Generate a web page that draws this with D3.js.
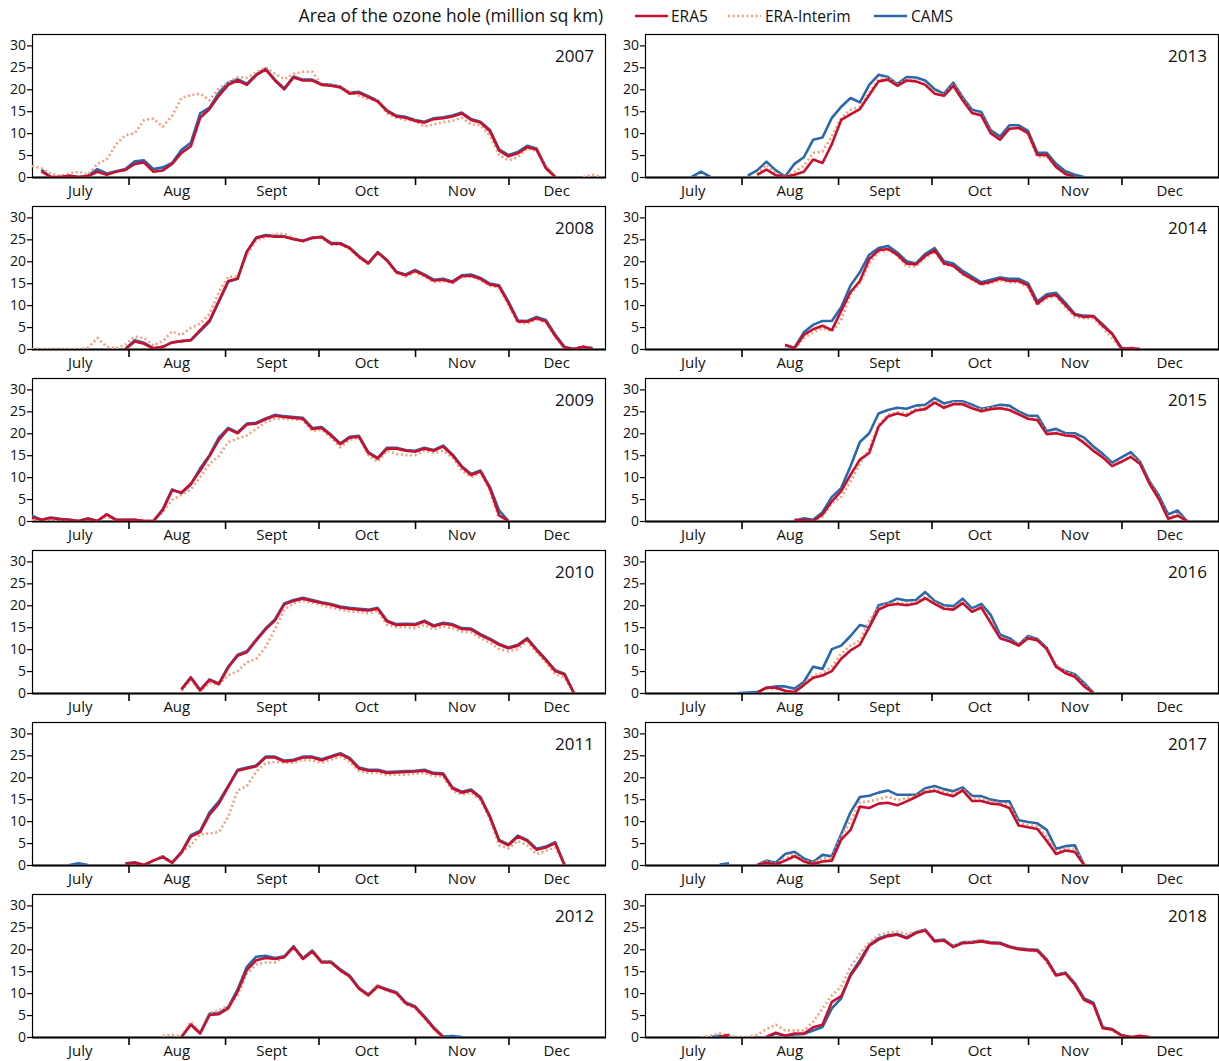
<!DOCTYPE html>
<html><head><meta charset="utf-8">
<script src="https://cdn.jsdelivr.net/npm/d3@7"></script>
<style>
html,body{margin:0;padding:0;background:#fff;}
svg{display:block;font-family:"Open Sans",sans-serif;}
</style></head><body>
<svg id="chart" width="1219" height="1061"></svg>
<script>
const _ = null;
// values sampled every 3 days starting 1 July (index i -> day 3*i); missing = null
const sampleStepDays = 3;
const years = [2007, 2008, 2009, 2010, 2011, 2012, 2013, 2014, 2015, 2016, 2017, 2018];
const monthLabels = ["July", "Aug", "Sept", "Oct", "Nov", "Dec"];
const yTicks = [0, 5, 10, 15, 20, 25, 30];
const titleText = "Area of the ozone hole (million sq km)";
const seriesNames = ["ERA5", "ERA-Interim", "CAMS"];

const era5_2007 = [_,1.3,0,0,0.3,0,0.2,1.2,0.5,1.2, 1.6,3.0,3.3,1.2,1.5,3.0,5.5,7,13.5,15.5, 18.5,21,22,21,23.2,24.5,22,20,22.7,22, 22,21,20.8,20.4,19,19.2,18.2,17.2,15,13.8, 13.5,12.8,12.4,13.2,13.4,13.8,14.5,13,12.4,10.5, 6,4.7,5.4,6.8,6.3,2,0];
const erai_2007 = [2.5,2,0.8,0.3,0.8,1.2,0.6,3.0,4.0,7.5, 9.5,10,13,13.3,11.5,14,18,18.7,19,17.5, 20.2,21.5,22.8,22.6,23.8,25,23.5,22.3,23.5,24, 24,21,21,20.5,19.5,18.5,17.8,17.5,14.5,13.5, 13,12.8,11.5,12,12.5,12.8,13.5,12,11.8,9.5, 5,3.8,4.5,6.5,6,2.5,0,_,_,0, 0.5,0];
const cams_2007 = [_,1.7,0,0,0.3,0,0.3,1.8,0.8,1.3, 1.8,3.6,3.8,1.8,2.2,3.2,6.2,7.8,14.5,15.8, 19.2,21.5,22.3,21.3,23.4,24.7,22.2,20.2,22.9,22.2, 22.2,21.2,21,20.6,19.2,19.4,18.4,17.4,15.2,14, 13.7,13,12.6,13.4,13.6,14,14.7,13.2,12.6,10.8, 6.3,5,5.7,7.1,6.5,2.3,0];

const era5_2008 = [_,_,_,_,_,_,_,_,_,_, 0,1.7,1.2,0.1,0.5,1.5,1.8,2,4.3,6.5, 11,15.5,16,22.2,25.3,25.8,25.6,25.6,25,24.6, 25.3,25.5,24,24,23,21,19.5,22,20.2,17.5, 16.8,17.8,16.8,15.6,15.8,15.2,16.6,16.7,16,14.7, 14.3,10.5,6.3,6.2,7,6.3,3,0.3,0,0.5, 0];
const erai_2008 = [0,0,0,0,0,0,0.3,2.5,0.5,0.2, 1,2.8,2.5,0.8,1.8,4,3.2,4.8,5.8,8, 13,16.5,16.5,21.5,24.8,25.5,26.2,26.3,25.3,24.5, 25.3,25.4,23.8,23.8,22.8,20.8,19.3,22,20,17.3, 16.5,17.5,16.5,15.2,15.5,15,16.4,16.5,15.7,14.4, 14,10,6,5.8,6.7,6,2.8,0];
const cams_2008 = [_,_,_,_,_,_,_,_,_,_, 0,2,1.4,0.2,0.5,1.5,1.8,2,4.1,6.2, 10.7,15.3,16,22.2,25.4,26,25.8,25.7,25.1,24.7, 25.4,25.6,24.2,24.1,23.1,21.2,19.6,22.1,20.3,17.6, 17,18,17,15.8,16,15.4,16.8,17,16.2,14.9, 14.5,10.8,6.5,6.4,7.3,6.6,3.3,0.5,0,0.5, 0.2];

const era5_2009 = [0.8,0.3,0.7,0.4,0.3,0,0.5,0,1.5,0.2, 0.3,0.3,0,0,2.5,7,6.5,8.5,11.5,14.8, 18.5,21,20,22,22.2,23.2,24,23.7,23.5,23.3, 21,21.2,19.5,17.5,19,19.2,15.5,14.2,16.5,16.5, 16,15.8,16.5,16,17,15,12.3,10.5,11.3,7.5, 1.3,0];
const erai_2009 = [0.3,0,0.3,0.2,0.2,0,0.5,0,1,0.2, 0,0.2,0,0,2,4.8,6,7.2,10,13, 14.8,18,18.8,19.5,21,22.5,23.3,23.3,23.2,23, 20.5,20.8,19,16.8,18.5,19,15,13.5,16,15.3, 15,15,16,15.5,16,14.5,11.5,10,11,7, 0.5];
const cams_2009 = [1.2,0.3,0.8,0.5,0.3,0,0.6,0,1.5,0.3, 0.3,0.3,0,0,2.7,7.2,6.3,8.3,12,15, 19,21.2,20.2,22.2,22.4,23.4,24.2,23.9,23.7,23.5, 21.2,21.4,19.7,17.7,19.2,19.4,15.7,14.4,16.7,16.7, 16.2,16,16.7,16.2,17.2,15.2,12.5,10.7,11.5,7.8, 2.4,0];

const era5_2010 = [_,_,_,_,_,_,_,_,_,_, _,_,_,_,_,_,0.8,3.5,0.6,3, 2,5.8,8.5,9.3,12,14.5,16.5,20.2,21,21.5, 21,20.5,20.1,19.5,19.2,19,18.8,19.2,16.3,15.5, 15.6,15.5,16.3,15.2,15.8,15.5,14.6,14.5,13.2,12.2, 11,10.2,10.8,12.3,9.8,7.5,5,4.2,0];
const erai_2010 = [_,_,_,_,_,_,_,_,_,_, _,_,_,_,_,_,0.5,3,0.4,2.3, 2,4,5,7,7.8,10.5,14.5,19,20.4,21, 20.6,20,19.5,19,18.6,18.5,18.2,18.7,15.5,15, 15,14.8,15.5,14.5,15.2,14.8,14,13.8,12.5,11.5, 10,9.5,10,11.8,9.3,7,4.3,3.5,0];
const cams_2010 = [_,_,_,_,_,_,_,_,_,_, _,_,_,_,_,_,0.9,3.6,0.7,3.1, 2.2,6,8.7,9.5,12.2,14.7,16.8,20.4,21.2,21.7, 21.2,20.7,20.3,19.7,19.4,19.2,19,19.4,16.5,15.7, 15.8,15.7,16.5,15.4,16,15.7,14.8,14.7,13.4,12.4, 11.2,10.4,11,12.5,10,7.7,5.2,4.4,0];

const era5_2011 = [_,_,_,_,_,_,_,_,_,_, 0.2,0.5,0,1,1.8,0.5,2.8,6.5,7.5,11.5, 14,17.8,21.5,22,22.5,24.5,24.5,23.6,23.8,24.5, 24.5,23.9,24.6,25.3,24.2,22,21.5,21.5,21,21.1, 21.2,21.3,21.5,20.8,20.7,17.5,16.5,17,15.3,11, 5.5,4.5,6.5,5.5,3.5,4,5,0];
const erai_2011 = [_,_,_,_,_,_,_,_,_,_, _,_,0,1.2,2,0.5,2.8,4.5,7,7.2, 7.5,11,17,18,21.3,23.2,23.5,23.3,23.3,24, 23.8,23.3,24,24.7,23.6,21.4,21,21,20.5,20.6, 20.6,20.8,21,20.3,20.2,17,16,16.5,14.8,10.5, 4.5,3.8,5.5,4.5,2.5,3.2,4,0];
const cams_2011 = [_,_,_,_,0,0.4,0,_,_,_, 0.4,0.6,0,1,2,0.6,3,6.8,7.8,12, 14.5,18,21.7,22.2,22.7,24.7,24.7,23.8,24,24.7, 24.7,24.1,24.8,25.5,24.4,22.2,21.7,21.7,21.2,21.3, 21.4,21.5,21.7,21,20.9,17.7,16.7,17.2,15.5,11.2, 5.7,4.7,6.7,5.7,3.7,4.2,5.2,0];

const era5_2012 = [_,_,_,_,_,_,_,_,_,_, _,_,_,_,_,_,0,2.8,0.8,5, 5.2,6.5,10.3,15.3,17.5,18,17.8,18.2,20.5,17.8, 19.5,17,17,15.2,13.8,11,9.5,11.5,10.7,10, 7.7,6.8,4.5,2,0];
const erai_2012 = [_,_,_,_,_,_,_,_,_,_, _,_,_,_,0.3,0.5,0.2,3.5,1,5.5, 6,7.2,9.5,14.5,16.5,17,17,18.2,20.5,17.8, 19.3,17.2,17.1,15,13.7,11,9.5,11.8,10.5,10, 7.4,6.6,4.2,1.8,0];
const cams_2012 = [_,_,_,_,_,_,_,_,_,_, _,_,_,_,_,_,0,2.9,0.9,5.3, 5.5,6.8,10.8,16,18.3,18.5,18,18.4,20.7,18, 19.7,17.2,17.2,15.4,14,11.2,9.7,11.7,10.9,10.2, 7.9,7,4.7,2.2,0.1,0.2,0];

const era5_2013 = [_,_,_,_,_,_,_,_,_,_, _,_,0.5,1.7,0.4,0,0.5,1.2,4,3.2, 7.5,13,14.3,15.5,18.7,21.8,22.2,20.8,22,21.8, 21,19,18.5,20.8,17.5,14.6,14,10,8.5,11, 11.2,10,5,5,2.3,0.7,0];
const erai_2013 = [_,_,_,_,_,_,_,_,_,_, _,_,0.7,2.8,0.8,0,1.2,2.5,5.5,5.8, 9.3,13.5,15.3,16,19.2,22.3,22.5,21,22.2,22, 21.2,19.2,18.7,21,17.8,14.8,14.2,10.2,8.5,11, 11.2,9.8,4.5,4.8,2.2,0.6,0];
const cams_2013 = [_,_,_,_,_,0,1.2,0,_,_, _,0.3,1.5,3.5,1.5,0.1,3,4.5,8.5,9, 13.5,16,18,17,21,23.3,22.8,21.2,22.8,22.7, 22,20,19,21.5,18.2,15.3,14.8,10.7,9.2,11.8, 11.8,10.5,5.5,5.5,3,1.3,0.5,0];

const era5_2014 = [_,_,_,_,_,_,_,_,_,_, _,_,_,_,_,1,0.2,3.2,4.5,5.3, 4.3,8.7,13,15.5,20.5,22.5,22.8,21.5,19.5,19.3, 21.2,22.5,19.5,19,17.2,16,14.8,15.3,16,15.5, 15.5,14.5,10.3,12,12.3,10,7.8,7.3,7.5,5.3, 3.5,0,0.2,0];
const erai_2014 = [_,_,_,_,_,_,_,_,_,_, _,_,_,_,_,_,0,2.5,3.8,4.7, 4,6.5,12.5,15,19.5,22,22.5,21.3,18.8,18.8, 20.8,22.2,19.3,18.8,17,15.8,14.6,15,15.7,15.2, 15.2,14,10,11.5,12,9.5,7.3,7,7,4.8, 2.5,0];
const cams_2014 = [_,_,_,_,_,_,_,_,_,_, _,_,_,_,_,0.8,0.3,3.8,5.5,6.4, 6.4,9.5,14.5,17.5,21.5,23,23.5,22,20,19.5, 21.7,23,20,19.5,17.8,16.5,15.2,15.8,16.3,16, 16,15,10.8,12.5,12.8,10.5,8,7.6,7.5,5.6, 3.5,0.3,0];

const era5_2015 = [_,_,_,_,_,_,_,_,_,_, _,_,_,_,_,_,0.3,0.2,0,1.5, 4.5,6.8,10.5,14,15.5,21.5,23.8,24.5,24,25.2, 25.5,27,25.8,26.6,26.6,25.7,25,25.5,25.7,25.3, 24.3,23.3,23,19.8,20,19.5,19.3,17.8,16,14.5, 12.5,13.5,14.6,13,8.5,5,0.5,1.2,0];
const erai_2015 = [_,_,_,_,_,_,_,_,_,_, _,_,_,_,_,_,_,_,0,1, 4,5.5,9,13,16.5,22,24.2,24.8,24.5,25.5, 26,27.3,26.2,27,26.9,26,25.3,25.8,26,25.5, 24.5,23.5,23.2,20,20.2,19.7,19.5,18,16.2,14.7, 12.7,13.7,14.9,13.2,8.7,5.2,0.8,1.5,0];
const cams_2015 = [_,_,_,_,_,_,_,_,_,_, _,_,_,_,_,_,0,0.6,0.3,2, 5.5,7.5,12.5,18,20,24.5,25.3,25.8,25.6,26.3, 26.5,28,26.8,27.3,27.3,26.5,25.6,26,26.5,26.3, 25,24,24,20.5,21,20,20,19,17,15.3, 13.3,14.5,15.7,13.5,9,5.8,1.5,2.4,0];

const era5_2016 = [_,_,_,_,_,_,_,_,_,_, _,_,0,1.2,1.2,0.5,0.2,1.8,3.5,4, 5,7.8,9.7,11,15,19,20,20.3,20,20.4, 21.6,20.3,19.2,19,20.5,18.5,19.5,16,12.5,11.8, 10.8,12.5,12,10,6,4.5,3.7,1.5,0];
const erai_2016 = [_,_,_,_,_,_,_,_,_,_, _,_,_,0.8,1,0.5,0.3,2,4,4.5, 6,9,10.8,12,16.5,19.5,20.3,20.6,20.4,20.6, 22,20.6,19.5,19.3,20.8,18.7,19.8,16.4,12.7,11.9, 10.9,12.7,12.1,10.2,6.5,4.8,4,1.8,0];
const cams_2016 = [_,_,_,_,_,_,_,_,_,_, 0,0.1,0.2,1.2,1.5,1.5,1,2.5,6,5.5, 10,10.8,13,15.5,15,20,20.5,21.5,21.1,21.2, 23,21,20,19.8,21.5,19.3,20.3,17.8,13.3,12.5, 11,13,12.3,10.3,6,5,4.3,2.3,0];

const era5_2017 = [_,_,_,_,_,_,_,_,_,_, _,_,0,0.5,0.1,1,2,0.8,0.2,0.8, 1,5.8,8,13.3,13,14,14.2,13.6,14.5,15.5, 16.6,16.9,16.2,15.7,17,14.6,14.6,14,13.8,13, 9,8.6,8.2,5.5,2.5,3.3,3,0];
const erai_2017 = [_,_,_,_,_,_,_,_,_,_, _,_,0,0.8,0.3,1.5,2.5,1,0.5,1.5, 1.5,6.5,10,14.3,14.5,15,15.6,14.8,15.2,15.8, 17,17.4,16.8,16.3,17.3,15.2,15.2,14.4,14.1,13.6, 9.6,9.1,8.8,6.5,3,3.8,3.7,0];
const cams_2017 = [_,_,_,_,_,_,_,_,0.1,0.4, _,_,0,1,0.5,2.5,3,1.5,0.7,2.3, 2,7,12,15.5,15.8,16.5,17,16,16,16, 17.5,18,17.3,16.8,17.7,15.8,15.7,14.9,14.5,14.5, 10.2,9.8,9.5,8,3.7,4.3,4.5,0];

const era5_2018 = [_,_,_,_,_,_,_,_,0,0.5, _,_,_,0,1,0.3,0.8,0.8,2.2,2.8, 8,9.3,14,17,20.8,22.2,23,23.3,22.5,23.7, 24.3,21.8,22,20.5,21.4,21.5,21.8,21.4,21.3,20.5, 20,19.8,19.7,17.5,14,14.5,12,8.5,7.5,2, 1.7,0.4,0,0.3,0];
const erai_2018 = [_,_,_,_,_,_,0,0.3,0.8,0.4, 0,0,0.5,1.8,2.8,1.5,1.5,1.5,3.5,6.5, 9.5,11.5,16,19,21.5,23.2,23.8,24,23.5,24, 24.5,21.8,22,20.8,21.5,21.7,22.1,21.4,21.3,20.5, 20,19.7,19.6,17,14,14.5,12,8.3,7.3,2, 1.5,0.3,0];
const cams_2018 = [_,_,_,_,_,_,_,0,0.3,0, _,_,_,0,0.8,0.3,0.6,0.7,1.5,2.3, 6.5,8.8,14.3,17.5,21,22.5,23.2,23.5,22.7,23.9, 24.5,22,22.2,20.7,21.6,21.7,22,21.6,21.5,20.7, 20.2,20,19.9,17.7,14.2,14.7,12.3,8.8,7.8,2.2, 1.8,0.4,0];

const era5ByYear = {2007:era5_2007,2008:era5_2008,2009:era5_2009,2010:era5_2010,2011:era5_2011,2012:era5_2012,2013:era5_2013,2014:era5_2014,2015:era5_2015,2016:era5_2016,2017:era5_2017,2018:era5_2018};
const eraiByYear = {2007:erai_2007,2008:erai_2008,2009:erai_2009,2010:erai_2010,2011:erai_2011,2012:erai_2012,2013:erai_2013,2014:erai_2014,2015:erai_2015,2016:erai_2016,2017:erai_2017,2018:erai_2018};
const camsByYear = {2007:cams_2007,2008:cams_2008,2009:cams_2009,2010:cams_2010,2011:cams_2011,2012:cams_2012,2013:cams_2013,2014:cams_2014,2015:cams_2015,2016:cams_2016,2017:cams_2017,2018:cams_2018};

// ---------- styling / layout ----------
const COL_ERA5 = "#c8102e", COL_ERAI = "#f4a07e", COL_CAMS = "#2b67ab";
const colX = [32, 645];
const panelW = 573;
const firstBottom = 177, rowStep = 172, panelH = 143;
const DAY = 864e5;

const svg = d3.select("#chart");

// title + legend
svg.append("text").attr("x", 603).attr("y", 22).attr("text-anchor", "end")
  .attr("font-size", 17.3).attr("fill", "#111").text(titleText);

const legendItems = [
  {name: seriesNames[0], color: COL_ERA5, dash: null, x1: 635, x2: 668, tx: 671},
  {name: seriesNames[1], color: COL_ERAI, dash: "2,2.6", x1: 728, x2: 761, tx: 765},
  {name: seriesNames[2], color: COL_CAMS, dash: null, x1: 874, x2: 907, tx: 911}
];
legendItems.forEach(it => {
  svg.append("line").attr("x1", it.x1).attr("x2", it.x2).attr("y1", 16).attr("y2", 16)
    .attr("stroke", it.color).attr("stroke-width", 2.6).attr("stroke-dasharray", it.dash);
  svg.append("text").attr("x", it.tx).attr("y", 22).attr("font-size", 15.5).attr("fill", "#111").text(it.name);
});

const defs = svg.append("defs");

years.forEach((year, k) => {
  const col = k < 6 ? 0 : 1;
  const row = k % 6;
  const x0 = colX[col];
  const bottom = firstBottom + row * rowStep;
  const top = bottom - panelH;

  const start = Date.UTC(year, 6, 1);
  const x = d3.scaleUtc().domain([new Date(start), new Date(Date.UTC(year + 1, 0, 1))]).range([x0, x0 + panelW]);
  const y = d3.scaleLinear().domain([0, 32.6]).range([bottom, top]);

  const g = svg.append("g");

  // frame
  g.append("rect").attr("x", x0 + 0.5).attr("y", top + 0.5).attr("width", panelW).attr("height", panelH)
    .attr("fill", "none").attr("stroke", "#000").attr("stroke-width", 1.2);

  // x axis: month boundary ticks
  const monthStarts = d3.utcMonth.range(new Date(Date.UTC(year, 7, 1)), new Date(Date.UTC(year, 11, 2)));
  const xa = g.append("g").attr("transform", `translate(0,${bottom})`)
    .call(d3.axisBottom(x).tickValues(monthStarts).tickSize(8).tickFormat(""));
  xa.select(".domain").remove();
  xa.selectAll(".tick line").attr("stroke", "#000").attr("stroke-width", 1.6);
  g.append("line").attr("x1", x0).attr("x2", x0 + panelW + 1).attr("y1", bottom + 0.5).attr("y2", bottom + 0.5)
    .attr("stroke", "#000").attr("stroke-width", 1.8);

  // month labels at mid-month
  monthLabels.forEach((lab, m) => {
    const a = Date.UTC(year, 6 + m, 1), b = Date.UTC(year, 7 + m, 1);
    g.append("text").attr("x", x(new Date((a + b) / 2))).attr("y", bottom + 19)
      .attr("text-anchor", "middle").attr("font-size", 15).attr("fill", "#111").text(lab);
  });

  // y axis
  const ya = g.append("g").attr("transform", `translate(${x0},0)`)
    .call(d3.axisLeft(y).tickValues(yTicks).tickSize(5).tickPadding(1));
  ya.select(".domain").remove();
  ya.selectAll(".tick line").attr("stroke", "#000").attr("stroke-width", 1.2);
  ya.selectAll(".tick text").attr("font-size", 14).attr("fill", "#111").attr("font-family", '"Open Sans",sans-serif');

  // year label
  g.append("text").attr("x", x0 + panelW - 11).attr("y", top + 28).attr("text-anchor", "end")
    .attr("font-size", 17).attr("fill", "#111").text(year);

  // clip
  const cid = "clip" + year;
  defs.append("clipPath").attr("id", cid).append("rect")
    .attr("x", x0).attr("y", top).attr("width", panelW).attr("height", panelH);

  const toPts = arr => arr.map((v, i) => ({t: new Date(start + i * sampleStepDays * DAY), v: v}));
  const line = d3.line().defined(d => d.v !== null && d.v !== undefined)
    .x(d => x(d.t)).y(d => y(d.v)).curve(d3.curveLinear);

  const lg = g.append("g").attr("clip-path", `url(#${cid})`);
  lg.append("path").attr("d", line(toPts(camsByYear[year]))).attr("fill", "none")
    .attr("stroke", COL_CAMS).attr("stroke-width", 2.6).attr("stroke-linejoin", "round");
  lg.append("path").attr("d", line(toPts(eraiByYear[year]))).attr("fill", "none")
    .attr("stroke", COL_ERAI).attr("stroke-width", 2.6).attr("stroke-dasharray", "2,2.6");
  lg.append("path").attr("d", line(toPts(era5ByYear[year]))).attr("fill", "none")
    .attr("stroke", COL_ERA5).attr("stroke-width", 2.6).attr("stroke-linejoin", "round");
});
</script>
</body></html>
